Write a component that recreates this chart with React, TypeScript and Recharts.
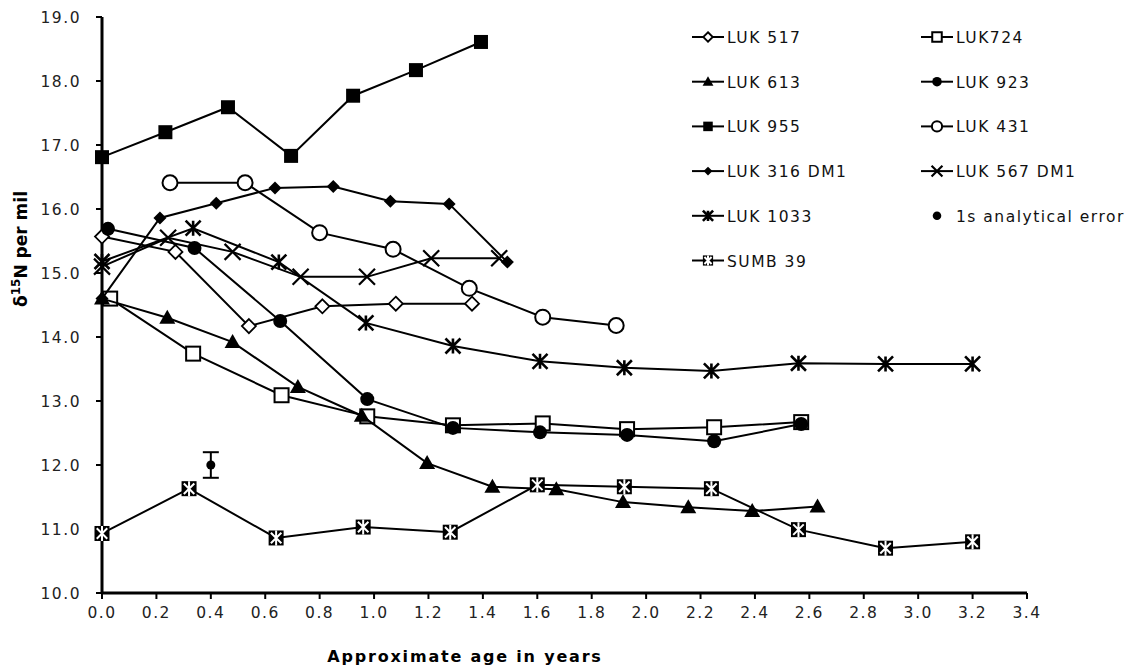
import React from "react";
import { ErrorBar, Scatter, ScatterChart, XAxis, YAxis } from "recharts";

type Pt = { x: number; y: number; err?: number };

const xTicks = [0, 0.2, 0.4, 0.6, 0.8, 1.0, 1.2, 1.4, 1.6, 1.8, 2.0, 2.2, 2.4, 2.6, 2.8, 3.0, 3.2, 3.4];
const yTicks = [10, 11, 12, 13, 14, 15, 16, 17, 18, 19];

const luk517: Pt[] = [
  { x: 0, y: 15.57 }, { x: 0.27, y: 15.33 }, { x: 0.54, y: 14.17 }, { x: 0.81, y: 14.48 }, { x: 1.08, y: 14.52 }, { x: 1.36, y: 14.52 },
];
const luk724: Pt[] = [
  { x: 0.03, y: 14.6 }, { x: 0.335, y: 13.74 }, { x: 0.66, y: 13.09 }, { x: 0.975, y: 12.76 }, { x: 1.29, y: 12.62 },
  { x: 1.62, y: 12.65 }, { x: 1.93, y: 12.56 }, { x: 2.25, y: 12.59 }, { x: 2.57, y: 12.67 },
];
const luk613: Pt[] = [
  { x: 0, y: 14.6 }, { x: 0.24, y: 14.3 }, { x: 0.48, y: 13.92 }, { x: 0.72, y: 13.22 }, { x: 0.955, y: 12.77 }, { x: 1.195, y: 12.03 },
  { x: 1.435, y: 11.66 }, { x: 1.67, y: 11.62 }, { x: 1.915, y: 11.42 }, { x: 2.155, y: 11.34 }, { x: 2.39, y: 11.28 }, { x: 2.63, y: 11.35 },
];
const luk923: Pt[] = [
  { x: 0.022, y: 15.69 }, { x: 0.34, y: 15.39 }, { x: 0.655, y: 14.25 }, { x: 0.975, y: 13.03 }, { x: 1.29, y: 12.58 },
  { x: 1.61, y: 12.51 }, { x: 1.93, y: 12.47 }, { x: 2.25, y: 12.37 }, { x: 2.57, y: 12.64 },
];
const luk955: Pt[] = [
  { x: 0, y: 16.81 }, { x: 0.233, y: 17.2 }, { x: 0.463, y: 17.59 }, { x: 0.695, y: 16.83 }, { x: 0.923, y: 17.77 },
  { x: 1.154, y: 18.17 }, { x: 1.393, y: 18.61 },
];
const luk431: Pt[] = [
  { x: 0.25, y: 16.41 }, { x: 0.526, y: 16.41 }, { x: 0.8, y: 15.63 }, { x: 1.07, y: 15.37 }, { x: 1.35, y: 14.76 },
  { x: 1.62, y: 14.31 }, { x: 1.89, y: 14.18 },
];
const luk316: Pt[] = [
  { x: 0, y: 14.6 }, { x: 0.213, y: 15.86 }, { x: 0.42, y: 16.09 }, { x: 0.636, y: 16.33 }, { x: 0.85, y: 16.35 },
  { x: 1.06, y: 16.12 }, { x: 1.276, y: 16.08 }, { x: 1.49, y: 15.17 },
];
const luk567: Pt[] = [
  { x: 0, y: 15.1 }, { x: 0.243, y: 15.55 }, { x: 0.48, y: 15.33 }, { x: 0.73, y: 14.94 }, { x: 0.974, y: 14.94 },
  { x: 1.21, y: 15.23 }, { x: 1.46, y: 15.23 },
];
const luk1033: Pt[] = [
  { x: 0, y: 15.18 }, { x: 0.335, y: 15.7 }, { x: 0.65, y: 15.17 }, { x: 0.97, y: 14.22 }, { x: 1.29, y: 13.86 },
  { x: 1.61, y: 13.62 }, { x: 1.92, y: 13.52 }, { x: 2.24, y: 13.47 }, { x: 2.56, y: 13.59 }, { x: 2.88, y: 13.58 }, { x: 3.2, y: 13.58 },
];
const sumb39: Pt[] = [
  { x: 0, y: 10.93 }, { x: 0.32, y: 11.63 }, { x: 0.64, y: 10.86 }, { x: 0.96, y: 11.03 }, { x: 1.28, y: 10.95 },
  { x: 1.6, y: 11.69 }, { x: 1.92, y: 11.66 }, { x: 2.24, y: 11.63 }, { x: 2.56, y: 10.99 }, { x: 2.88, y: 10.7 }, { x: 3.2, y: 10.8 },
];
const errorPoint: Pt[] = [{ x: 0.4, y: 12.0, err: 0.2 }];

type Kind =
  | "openDiamond" | "openSquare" | "triangle" | "dot" | "square" | "openCircle"
  | "diamond" | "cross" | "star" | "boxStar" | "smallDot";

function Marker({ kind, cx, cy, s = 1 }: { kind: Kind; cx: number; cy: number; s?: number }) {
  const k = "#000";
  switch (kind) {
    case "openDiamond": {
      const r = 7 * s;
      return <path d={`M${cx},${cy - r}L${cx + r},${cy}L${cx},${cy + r}L${cx - r},${cy}Z`} fill="#fff" stroke={k} strokeWidth={1.8} />;
    }
    case "openSquare": {
      const r = 7 * s;
      return <rect x={cx - r} y={cy - r} width={2 * r} height={2 * r} fill="#fff" stroke={k} strokeWidth={2} />;
    }
    case "triangle": {
      const r = 8 * s;
      return <path d={`M${cx},${cy - r}L${cx + r},${cy + r * 0.75}L${cx - r},${cy + r * 0.75}Z`} fill={k} />;
    }
    case "dot":
      return <circle cx={cx} cy={cy} r={7 * s} fill={k} />;
    case "smallDot":
      return <circle cx={cx} cy={cy} r={4.5 * s} fill={k} />;
    case "square": {
      const r = 7 * s;
      return <rect x={cx - r} y={cy - r} width={2 * r} height={2 * r} fill={k} />;
    }
    case "openCircle":
      return <circle cx={cx} cy={cy} r={7.5 * s} fill="#fff" stroke={k} strokeWidth={2} />;
    case "diamond": {
      const r = 6.5 * s;
      return <path d={`M${cx},${cy - r}L${cx + r},${cy}L${cx},${cy + r}L${cx - r},${cy}Z`} fill={k} />;
    }
    case "cross": {
      const r = 8 * s;
      return (
        <path d={`M${cx - r},${cy - r}L${cx + r},${cy + r}M${cx - r},${cy + r}L${cx + r},${cy - r}`} stroke={k} strokeWidth={2.2} />
      );
    }
    case "star": {
      const r = 7.5 * s;
      return (
        <path
          d={`M${cx - r},${cy - r}L${cx + r},${cy + r}M${cx - r},${cy + r}L${cx + r},${cy - r}M${cx},${cy - r}L${cx},${cy + r}`}
          stroke={k}
          strokeWidth={2.6}
        />
      );
    }
    case "boxStar": {
      const r = 7.5 * s;
      const i = r * 0.7;
      return (
        <g>
          <rect x={cx - r} y={cy - r} width={2 * r} height={2 * r} fill={k} />
          <path
            d={`M${cx - i},${cy - i}L${cx + i},${cy + i}M${cx - i},${cy + i}L${cx + i},${cy - i}M${cx},${cy - r}L${cx},${cy + r}`}
            stroke="#fff"
            strokeWidth={2}
          />
        </g>
      );
    }
  }
  return null;
}

const shapeOf = (kind: Kind) => (props: any) => <Marker kind={kind} cx={props.cx} cy={props.cy} />;

const series: { name: string; data: Pt[]; kind: Kind }[] = [
  { name: "LUK 517", data: luk517, kind: "openDiamond" },
  { name: "LUK724", data: luk724, kind: "openSquare" },
  { name: "LUK 613", data: luk613, kind: "triangle" },
  { name: "LUK 923", data: luk923, kind: "dot" },
  { name: "LUK 955", data: luk955, kind: "square" },
  { name: "LUK 431", data: luk431, kind: "openCircle" },
  { name: "LUK 316 DM1", data: luk316, kind: "diamond" },
  { name: "LUK 567 DM1", data: luk567, kind: "cross" },
  { name: "LUK 1033", data: luk1033, kind: "star" },
  { name: "SUMB 39", data: sumb39, kind: "boxStar" },
];

const legendLeft: [string, Kind][] = [
  ["LUK 517", "openDiamond"],
  ["LUK 613", "triangle"],
  ["LUK 955", "square"],
  ["LUK 316 DM1", "diamond"],
  ["LUK 1033", "star"],
  ["SUMB 39", "boxStar"],
];
const legendRight: [string, Kind | null][] = [
  ["LUK724", "openSquare"],
  ["LUK 923", "dot"],
  ["LUK 431", "openCircle"],
  ["LUK 567 DM1", "cross"],
  ["1s analytical error", null],
];

const font = "DejaVu Sans";

function LegendItem({ x, y, label, kind }: { x: number; y: number; label: string; kind: Kind | null }) {
  return (
    <g>
      {kind ? <line x1={x - 16} x2={x + 16} y1={y} y2={y} stroke="#000" strokeWidth={2} /> : null}
      <Marker kind={kind ?? "smallDot"} cx={x} cy={y} s={kind ? 0.68 : 0.95} />
      <text x={x + 19} y={y + 6} fontSize={15.5} fontFamily={font} letterSpacing={1.5} fill="#111">
        {label}
      </text>
    </g>
  );
}

export default function App() {
  return (
    <div style={{ position: "absolute", left: 0, top: 0, width: 1130, height: 669, background: "#fff" }}>
      <ScatterChart width={1130} height={669} margin={{ top: 17, right: 103, bottom: 0, left: 0 }}>
        <XAxis
          type="number"
          dataKey="x"
          domain={[0, 3.4]}
          ticks={xTicks}
          interval={0}
          tickFormatter={(v: number) => v.toFixed(1)}
          height={76}
          axisLine={{ stroke: "#000", strokeWidth: 3 }}
          tickLine={{ stroke: "#000", strokeWidth: 2 }}
          tickSize={6}
          tickMargin={8}
          tick={{ fontSize: 15.5, fontFamily: font, fill: "#222", letterSpacing: 1.5 }}
          label={{
            content: () => (
              <text x={465} y={662} textAnchor="middle" fontSize={16} fontWeight="bold" fontFamily={font} letterSpacing={1.8} fill="#000">
                Approximate age in years
              </text>
            ),
          }}
        />
        <YAxis
          type="number"
          dataKey="y"
          domain={[10, 19]}
          ticks={yTicks}
          interval={0}
          tickFormatter={(v: number) => v.toFixed(1)}
          width={102}
          axisLine={{ stroke: "#000", strokeWidth: 3 }}
          tickLine={{ stroke: "#000", strokeWidth: 2 }}
          tickSize={6}
          tickMargin={15}
          tick={{ fontSize: 15.5, fontFamily: font, fill: "#222", letterSpacing: 1.5 }}
          label={{
            content: () => (
              <text transform="translate(27,249) rotate(-90)" textAnchor="middle" fontSize={17} fontWeight="bold" fontFamily={font} fill="#000">
                δ<tspan fontSize={12} dy={-7}>15</tspan>
                <tspan dy={7}>N per mil</tspan>
              </text>
            ),
          }}
        />
        {series.map((s) => (
          <Scatter
            key={s.name}
            name={s.name}
            data={s.data}
            line={{ stroke: "#000", strokeWidth: 2 }}
            lineType="joint"
            shape={shapeOf(s.kind)}
            isAnimationActive={false}
          />
        ))}
        <Scatter name="1s analytical error" data={errorPoint} shape={shapeOf("smallDot")} isAnimationActive={false}>
          <ErrorBar dataKey="err" direction="y" width={8} stroke="#000" strokeWidth={2} />
        </Scatter>
      </ScatterChart>
      <svg width={1130} height={300} style={{ position: "absolute", left: 0, top: 0, pointerEvents: "none" }}>
        {legendLeft.map(([label, kind], i) => (
          <LegendItem key={label} x={708} y={37 + i * 44.7} label={label} kind={kind} />
        ))}
        {legendRight.map(([label, kind], i) => (
          <LegendItem key={label} x={937} y={37 + i * 44.7} label={label} kind={kind} />
        ))}
      </svg>
    </div>
  );
}
